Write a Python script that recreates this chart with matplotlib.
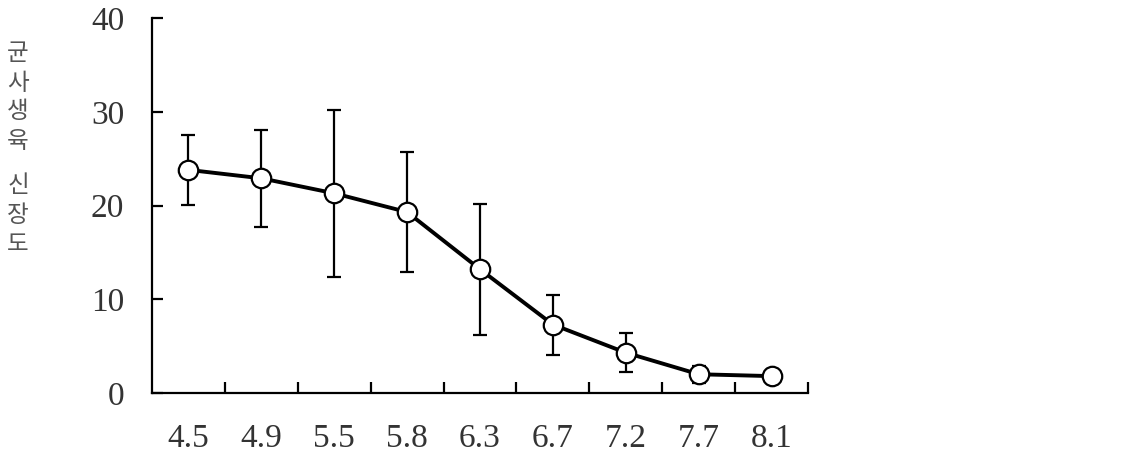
import numpy as np
import matplotlib.pyplot as plt

# pH categories and mycelial growth values
ph_labels = ["4.5", "4.9", "5.5", "5.8", "6.3", "6.7", "7.2", "7.7", "8.1"]
growth = [23.8, 22.9, 21.3, 19.3, 13.2, 7.3, 4.3, 2.0, 1.8]
growth_err = [3.7, 5.2, 8.9, 6.4, 7.0, 3.2, 2.1, 0.9, 0.7]
y_ticks = [0, 10, 20, 30, 40]
ylabel_top = "균사생육"
ylabel_bottom = "신장도"

W, H = 1148, 458
fig = plt.figure(figsize=(W / 100, H / 100), dpi=100)
ax = fig.add_axes([152 / W, 1 - 393 / H, (808 - 152) / W, (393 - 18) / H])

x = np.arange(1, len(ph_labels) + 1)
ax.errorbar(x, growth, yerr=growth_err, fmt='none', ecolor='black',
            elinewidth=1.6, capsize=5, capthick=1.6, zorder=2)
ax.plot(x, growth, color='black', lw=2.8, marker='o', ms=14,
        mfc='white', mec='black', mew=1.6, zorder=3)

ax.set_xlim(0.5, len(ph_labels) + 0.5)
ax.set_ylim(0, 40)
for s in ['top', 'right']:
    ax.spines[s].set_visible(False)
for s in ['left', 'bottom']:
    ax.spines[s].set_linewidth(1.6)

# category labels at centres, tick marks between categories
ax.set_xticks(x)
ax.set_xticklabels(ph_labels, family='Liberation Serif', fontsize=24, color='#333333')
ax.tick_params(axis='x', which='major', length=0, pad=22)
ax.set_xticks(np.arange(1.5, len(ph_labels) + 1, 1.0), minor=True)
ax.tick_params(axis='x', which='minor', direction='in', length=8, width=1.6)

ax.set_yticks(y_ticks)
ax.set_yticklabels([str(t) for t in y_ticks], family='Liberation Serif',
                   fontsize=24, color='#333333')
ax.tick_params(axis='y', direction='in', length=8, width=1.6, pad=20)

# vertical stacked Korean y label
chars = list(ylabel_top) + [None] + list(ylabel_bottom)
ypix = 54
for c in chars:
    if c is None:
        ypix += 16
        continue
    fig.text(18 / W, 1 - ypix / H, c, family=['Noto Sans CJK KR', 'DejaVu Sans'],
             fontsize=17, color='#555555', ha='center', va='center',
             fontweight='light')
    ypix += 29

fig.savefig('out.png', dpi=100)
